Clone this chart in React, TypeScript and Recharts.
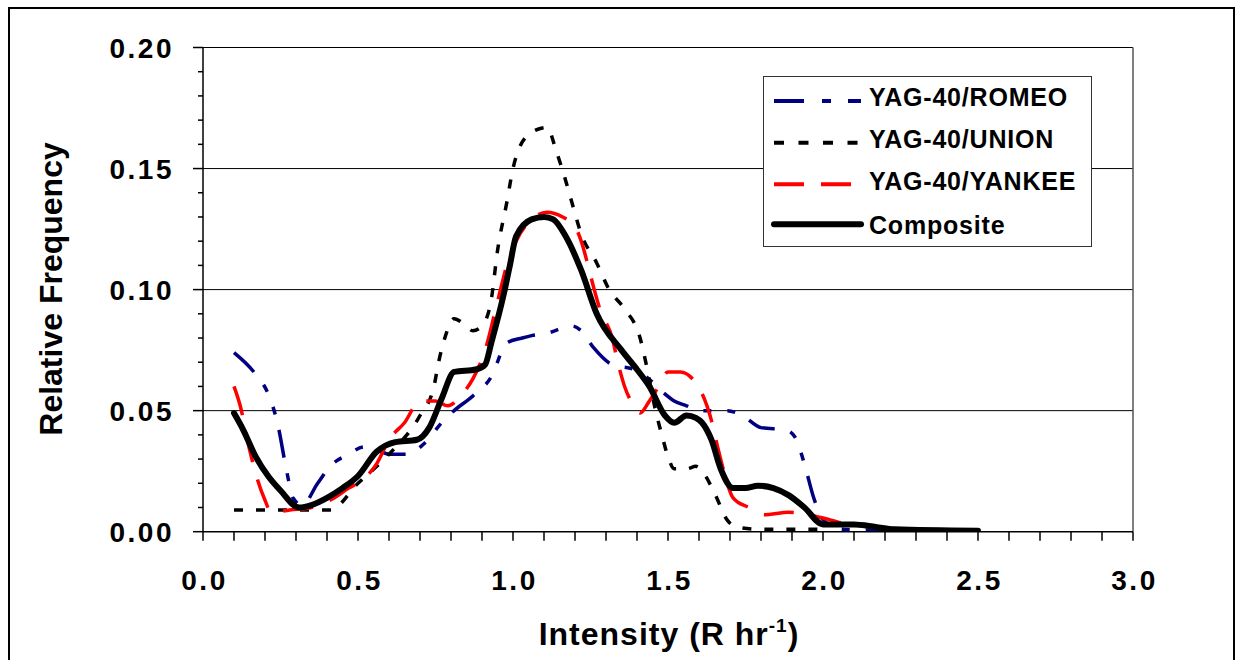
import React from 'react';
import { LineChart, Line, XAxis, YAxis, ReferenceLine } from 'recharts';

// Intensity (R hr^-1) sample points and relative frequencies per series
const romeoX = [0.10, 0.17, 0.21, 0.24, 0.27, 0.29, 0.32, 0.37, 0.41, 0.47, 0.52, 0.56, 0.60, 0.66, 0.71, 0.77, 0.81, 0.87, 0.93, 0.98, 1.03, 1.06, 1.11, 1.19, 1.22, 1.26, 1.32, 1.39, 1.43, 1.48, 1.52, 1.56, 1.60, 1.69, 1.74, 1.80, 1.88, 1.91, 1.94, 1.97, 2.00, 2.06, 2.20, 2.40];
const romeoY = [0.074, 0.065, 0.057, 0.045, 0.025, 0.014, 0.011, 0.020, 0.027, 0.032, 0.035, 0.034, 0.032, 0.032, 0.036, 0.045, 0.050, 0.056, 0.064, 0.078, 0.080, 0.081, 0.082, 0.085, 0.083, 0.076, 0.069, 0.067, 0.064, 0.058, 0.054, 0.052, 0.050, 0.050, 0.048, 0.043, 0.042, 0.039, 0.028, 0.014, 0.005, 0.001, 0.0005, 0.0002];

const unionX = [0.10, 0.20, 0.30, 0.41, 0.50, 0.60, 0.70, 0.745, 0.76, 0.78, 0.81, 0.84, 0.87, 0.90, 0.93, 0.95, 0.98, 1.00, 1.05, 1.11, 1.14, 1.17, 1.19, 1.22, 1.27, 1.31, 1.36, 1.41, 1.43, 1.46, 1.48, 1.50, 1.52, 1.56, 1.59, 1.61, 1.65, 1.69, 1.72, 1.80, 1.90, 2.00];
const unionY = [0.009, 0.009, 0.009, 0.009, 0.020, 0.032, 0.048, 0.060, 0.070, 0.080, 0.088, 0.086, 0.083, 0.085, 0.096, 0.116, 0.136, 0.150, 0.164, 0.167, 0.157, 0.145, 0.136, 0.123, 0.111, 0.100, 0.092, 0.080, 0.069, 0.050, 0.040, 0.031, 0.026, 0.026, 0.027, 0.025, 0.016, 0.005, 0.002, 0.001, 0.001, 0.001];

const yankeeX = [0.10, 0.12, 0.15, 0.17, 0.20, 0.22, 0.28, 0.35, 0.41, 0.47, 0.52, 0.56, 0.60, 0.65, 0.70, 0.75, 0.79, 0.83, 0.87, 0.91, 0.95, 0.98, 1.01, 1.06, 1.11, 1.16, 1.20, 1.22, 1.24, 1.26, 1.28, 1.32, 1.34, 1.36, 1.39, 1.41, 1.44, 1.47, 1.50, 1.54, 1.58, 1.61, 1.64, 1.66, 1.68, 1.71, 1.76, 1.81, 1.89, 1.95, 2.02, 2.08, 2.15, 2.25, 2.35];
const yankeeY = [0.060, 0.052, 0.034, 0.024, 0.013, 0.008, 0.009, 0.010, 0.013, 0.018, 0.022, 0.028, 0.038, 0.045, 0.054, 0.054, 0.052, 0.056, 0.063, 0.075, 0.095, 0.110, 0.120, 0.129, 0.132, 0.130, 0.126, 0.120, 0.111, 0.101, 0.092, 0.080, 0.069, 0.060, 0.052, 0.049, 0.054, 0.060, 0.066, 0.066, 0.063, 0.057, 0.046, 0.035, 0.025, 0.014, 0.010, 0.007, 0.008, 0.007, 0.005, 0.003, 0.002, 0.001, 0.0005];

const compositeX = [0.10, 0.13, 0.17, 0.21, 0.25, 0.31, 0.35, 0.40, 0.45, 0.50, 0.56, 0.62, 0.69, 0.73, 0.77, 0.81, 0.88, 0.91, 0.93, 0.97, 0.99, 1.01, 1.06, 1.10, 1.13, 1.17, 1.22, 1.27, 1.35, 1.40, 1.44, 1.49, 1.52, 1.56, 1.59, 1.61, 1.64, 1.67, 1.71, 1.75, 1.79, 1.84, 1.89, 1.94, 2.00, 2.05, 2.10, 2.17, 2.23, 2.50];
const compositeY = [0.049, 0.042, 0.031, 0.023, 0.017, 0.010, 0.011, 0.014, 0.018, 0.023, 0.033, 0.037, 0.038, 0.043, 0.055, 0.066, 0.067, 0.069, 0.078, 0.098, 0.110, 0.122, 0.129, 0.130, 0.129, 0.122, 0.108, 0.090, 0.075, 0.067, 0.060, 0.048, 0.045, 0.048, 0.047, 0.045, 0.038, 0.026, 0.018, 0.018, 0.019, 0.018, 0.015, 0.010, 0.003, 0.003, 0.003, 0.002, 0.001, 0.0004];

const seriesNames = ['YAG-40/ROMEO', 'YAG-40/UNION', 'YAG-40/YANKEE', 'Composite'];
const xLabelTicks = [0, 0.5, 1.0, 1.5, 2.0, 2.5, 3.0];
const yLabelTicks = [0, 0.05, 0.1, 0.15, 0.2];
const gridValues = [0.05, 0.1, 0.15, 0.2];

const xTicks = Array.from({ length: 31 }, (_, i) => i / 10);
const yTicks = Array.from({ length: 21 }, (_, i) => i / 100);

const toRows = (xs: number[], ys: number[]) => xs.map((x, i) => ({ x, y: ys[i] }));
const romeo = toRows(romeoX, romeoY);
const union = toRows(unionX, unionY);
const yankee = toRows(yankeeX, yankeeY);
const composite = toRows(compositeX, compositeY);

const FONT = '"Liberation Sans", Arial, Helvetica, sans-serif';

const styles = [
  { color: '#000080', width: 3.5, dash: '28 16 8 16 8 16' },
  { color: '#000000', width: 3.5, dash: '9 13' },
  { color: '#ff0000', width: 3.5, dash: '30 18' },
  { color: '#000000', width: 6, dash: undefined as string | undefined },
];

const isIn = (v: number, list: number[]) => list.some((t) => Math.abs(t - v) < 1e-6);

const YTick = (props: any) => {
  const { x, y, payload } = props;
  const v = payload.value as number;
  const major = isIn(v, yLabelTicks);
  return (
    <g>
      <line x1={x - (major ? 10 : 5)} x2={x} y1={y} y2={y} stroke="#000" strokeWidth={1.5} />
      {major && (
        <text x={x - 29} y={y + 10} textAnchor="end" fontSize={28} fontWeight="bold" letterSpacing={2.5} fontFamily={FONT} fill="#000">
          {v.toFixed(2)}
        </text>
      )}
    </g>
  );
};

const XTick = (props: any) => {
  const { x, y, payload } = props;
  const v = payload.value as number;
  const major = isIn(v, xLabelTicks);
  return (
    <g>
      <line x1={x} x2={x} y1={y} y2={y + 9} stroke="#000" strokeWidth={1.5} />
      {major && (
        <text x={x + 1.5} y={y + 58} textAnchor="middle" fontSize={28} fontWeight="bold" letterSpacing={2.5} fontFamily={FONT} fill="#000">
          {v.toFixed(1)}
        </text>
      )}
    </g>
  );
};

const LegendBox = () => {
  const rowsY = [100, 141.7, 183.3, 223.3];
  const textY = [105, 146.7, 189, 232.5];
  return (
    <div style={{ position: 'absolute', left: 763, top: 76, width: 327, height: 169, border: '1.5px solid #333', background: '#fff' }}>
      <svg width={327} height={169} style={{ display: 'block' }}>
        {seriesNames.map((name, i) => (
          <g key={name}>
            <line x1={10} x2={97} y1={rowsY[i] - 76} y2={rowsY[i] - 76} stroke={styles[i].color} strokeWidth={i === 3 ? 6 : 4} strokeDasharray={i === 3 ? undefined : i === 0 ? '30 18 9 17 13' : i === 1 ? '10 14.5' : '30 17'} strokeLinecap={i === 3 ? 'round' : 'butt'} />
            <text x={105} y={textY[i] - 76} fontSize={25} fontWeight="bold" letterSpacing={0.8} fontFamily={FONT} fill="#000">
              {name}
            </text>
          </g>
        ))}
      </svg>
    </div>
  );
};

export default function App() {
  return (
    <div style={{ position: 'absolute', left: 0, top: 0, width: 1235, height: 660, overflow: 'hidden', background: '#fff', fontFamily: FONT }}>
      <div style={{ position: 'absolute', left: 8, top: 7, width: 1223, height: 720, border: '2px solid #000' }} />
      <div style={{ position: 'absolute', left: 0, top: 0 }}>
        <LineChart width={1235} height={660} margin={{ top: 47.5, right: 102, bottom: 68.3, left: 103 }}>
          <XAxis
            type="number"
            dataKey="x"
            domain={[0, 3]}
            ticks={xTicks}
            interval={0}
            height={60}
            tickSize={0}
            tickMargin={0}
            tick={<XTick />}
            axisLine={{ stroke: '#000', strokeWidth: 1.5 }}
            allowDuplicatedCategory={false}
          />
          <YAxis
            type="number"
            domain={[0, 0.2]}
            ticks={yTicks}
            interval={0}
            width={100}
            tickSize={0}
            tickMargin={0}
            tick={<YTick />}
            axisLine={{ stroke: '#000', strokeWidth: 1.5 }}
            allowDataOverflow
          />
          {gridValues.map((g) => (
            <ReferenceLine key={g} y={g} stroke="#000" strokeWidth={1} ifOverflow="extendDomain" />
          ))}
          <ReferenceLine x={3} stroke="#555" strokeWidth={1.5} />
          <Line data={romeo} dataKey="y" name={seriesNames[0]} type="monotone" stroke={styles[0].color} strokeWidth={styles[0].width} strokeDasharray={styles[0].dash} dot={false} activeDot={false} isAnimationActive={false} />
          <Line data={union} dataKey="y" name={seriesNames[1]} type="monotone" stroke={styles[1].color} strokeWidth={styles[1].width} strokeDasharray={styles[1].dash} dot={false} activeDot={false} isAnimationActive={false} />
          <Line data={yankee} dataKey="y" name={seriesNames[2]} type="monotone" stroke={styles[2].color} strokeWidth={styles[2].width} strokeDasharray={styles[2].dash} dot={false} activeDot={false} isAnimationActive={false} />
          <Line data={composite} dataKey="y" name={seriesNames[3]} type="monotone" stroke={styles[3].color} strokeWidth={styles[3].width} strokeLinejoin="round" strokeLinecap="round" dot={false} activeDot={false} isAnimationActive={false} />
        </LineChart>
      </div>
      <svg width={1235} height={660} style={{ position: 'absolute', left: 0, top: 0, pointerEvents: 'none' }}>
        <text transform="translate(62,289) rotate(-90)" textAnchor="middle" fontSize={32} fontWeight="bold" fontFamily={FONT} fill="#000">
          Relative Frequency
        </text>
        <text x={669} y={645} textAnchor="middle" fontSize={32} fontWeight="bold" letterSpacing={1} fontFamily={FONT} fill="#000">
          Intensity (R hr
          <tspan dy={-13} fontSize={19}>-1</tspan>
          <tspan dy={13}>)</tspan>
        </text>
      </svg>
      <LegendBox />
    </div>
  );
}
